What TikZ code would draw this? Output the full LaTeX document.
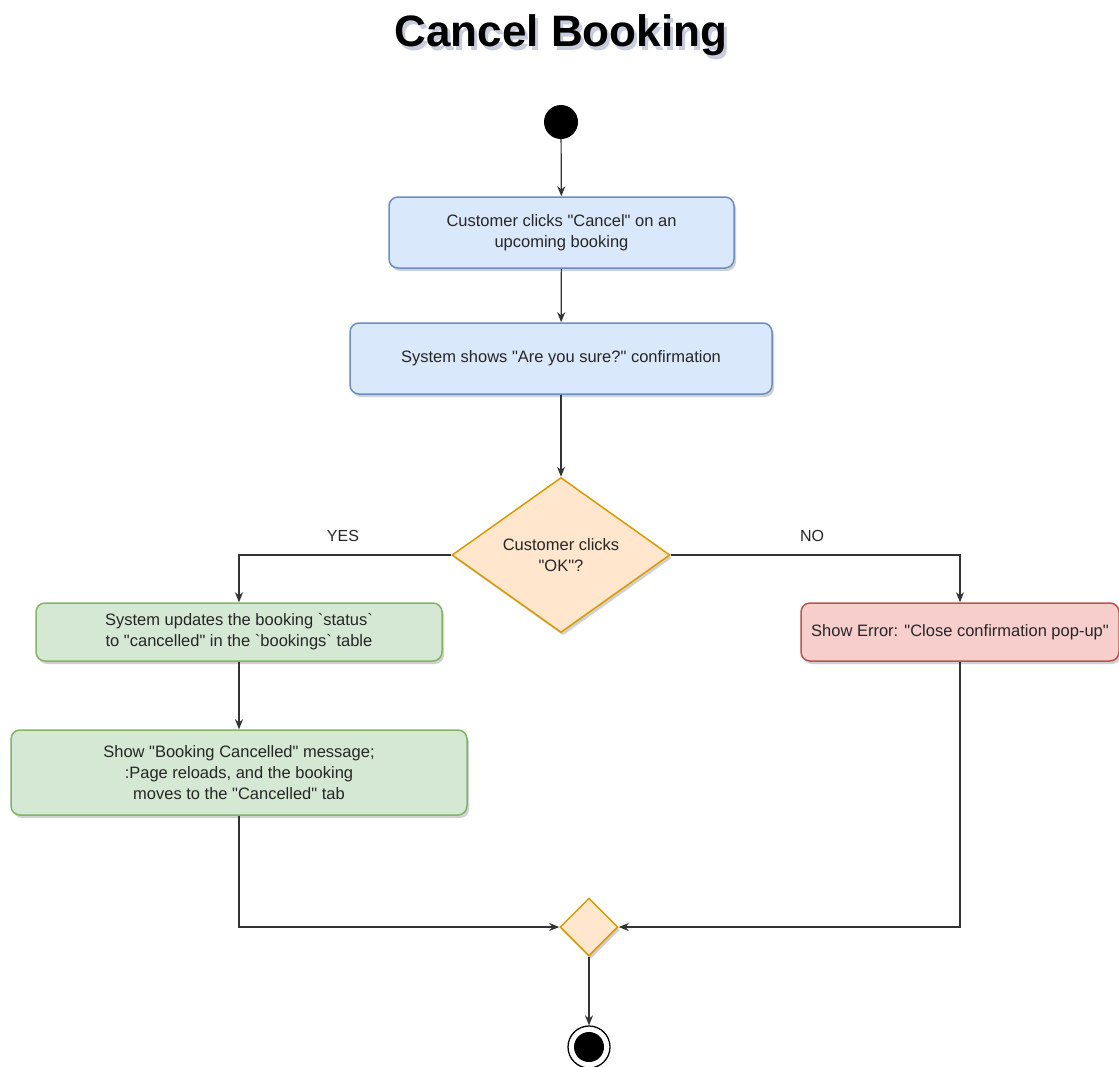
\documentclass[tikz,border=0pt]{standalone}
\usepackage{fontspec}
\setmainfont{Liberation Sans}[Ligatures=TeXOff]
\usetikzlibrary{shapes.geometric,arrows.meta,shadows}
\definecolor{bluefill}{HTML}{DAE8FC}
\definecolor{bluedraw}{HTML}{6C8EBF}
\definecolor{greenfill}{HTML}{D5E8D4}
\definecolor{greendraw}{HTML}{82B366}
\definecolor{redfill}{HTML}{F8CECC}
\definecolor{reddraw}{HTML}{B85450}
\definecolor{orangefill}{HTML}{FFE6CC}
\definecolor{orangedraw}{HTML}{D79B00}
\definecolor{linecol}{HTML}{333333}
\definecolor{titleshade}{HTML}{C8CCDC}
\tikzset{
  soft shadow/.style={drop shadow={shadow xshift=2pt,shadow yshift=-3pt,opacity=0.18,fill=black}},
  actbox/.style={rectangle,rounded corners=9pt,line width=1.5pt,align=center,
    font=\fontsize{16.5}{21}\selectfont,text=black!85,inner sep=0pt,soft shadow},
  bluebox/.style={actbox,fill=bluefill,draw=bluedraw},
  greenbox/.style={actbox,fill=greenfill,draw=greendraw},
  redbox/.style={actbox,fill=redfill,draw=reddraw},
  decision/.style={diamond,fill=orangefill,draw=orangedraw,line width=1.5pt,inner sep=0pt,
    align=center,font=\fontsize{16.5}{21}\selectfont,text=black!85,soft shadow},
  flow/.style={draw=linecol,line width=1.2pt,-{Stealth[length=10pt,width=8pt]}},
  branchlabel/.style={font=\fontsize{16}{19}\selectfont,text=black!85}
}
\newcommand{\shadedtitle}[1]{\makebox[0pt][l]{\hspace{3pt}\raisebox{-4pt}{\color{titleshade}#1}}#1}
\begin{document}
\begin{tikzpicture}[x=1pt,y=-1pt]
\useasboundingbox (0,0) rectangle (1119,1066);

% title with a soft shadow behind it
\node[font=\fontsize{44}{50}\selectfont\bfseries] (title) at (561,37) {\shadedtitle{Cancel Booking}};

% start
\node[circle,fill=black,minimum size=34pt,inner sep=0pt] (start) at (561,122) {};

% activities
\node[bluebox,minimum width=345pt,minimum height=71pt] (ask) at (561.5,232.5)
  {Customer clicks "Cancel" on an\\upcoming booking};
\node[bluebox,minimum width=422pt,minimum height=71pt] (confirm) at (561,358.5)
  {System shows "Are you sure?" confirmation};

\node[decision,minimum width=218pt,minimum height=155pt,aspect=1.406] (ok) at (561,555)
  {Customer clicks\\"OK"?};

\node[greenbox,minimum width=406pt,minimum height=58pt] (update) at (239,632)
  {System updates the booking `status`\\to "cancelled" in the `bookings` table};
\node[greenbox,minimum width=456pt,minimum height=85pt] (done) at (239,772.5)
  {Show "Booking Cancelled" message;\\:Page reloads, and the booking\\moves to the "Cancelled" tab};

\node[redbox,minimum width=318pt,minimum height=58pt] (err) at (960,632)
  {Show Error: "Close confirmation pop-up"};

% merge
\node[diamond,fill=orangefill,draw=orangedraw,line width=1.5pt,minimum size=58pt,inner sep=0pt,soft shadow] (merge) at (589,927) {};

% end
\node[circle,draw=black,line width=1.3pt,fill=white,minimum size=42pt,inner sep=0pt] (stop) at (589,1047) {};
\node[circle,fill=black,minimum size=30pt,inner sep=0pt] (stopdot) at (stop.center) {};

% connectors
\draw[flow] (start) -- (ask);
\draw[flow] (ask) -- (confirm);
\draw[flow] (confirm) -- (ok);
\draw[flow] (ok.west) -| (update.north);
\draw[flow] (ok.east) -| (err.north);
\draw[flow] (update) -- (done);
\draw[flow] (done.south) |- (merge.west);
\draw[flow] (err.south) |- (merge.east);
\draw[flow] (merge) -- (stop);

% branch labels
\node[branchlabel] (yes) at (343,536) {YES};
\node[branchlabel] (no) at (812,536) {NO};
\end{tikzpicture}
\end{document}
